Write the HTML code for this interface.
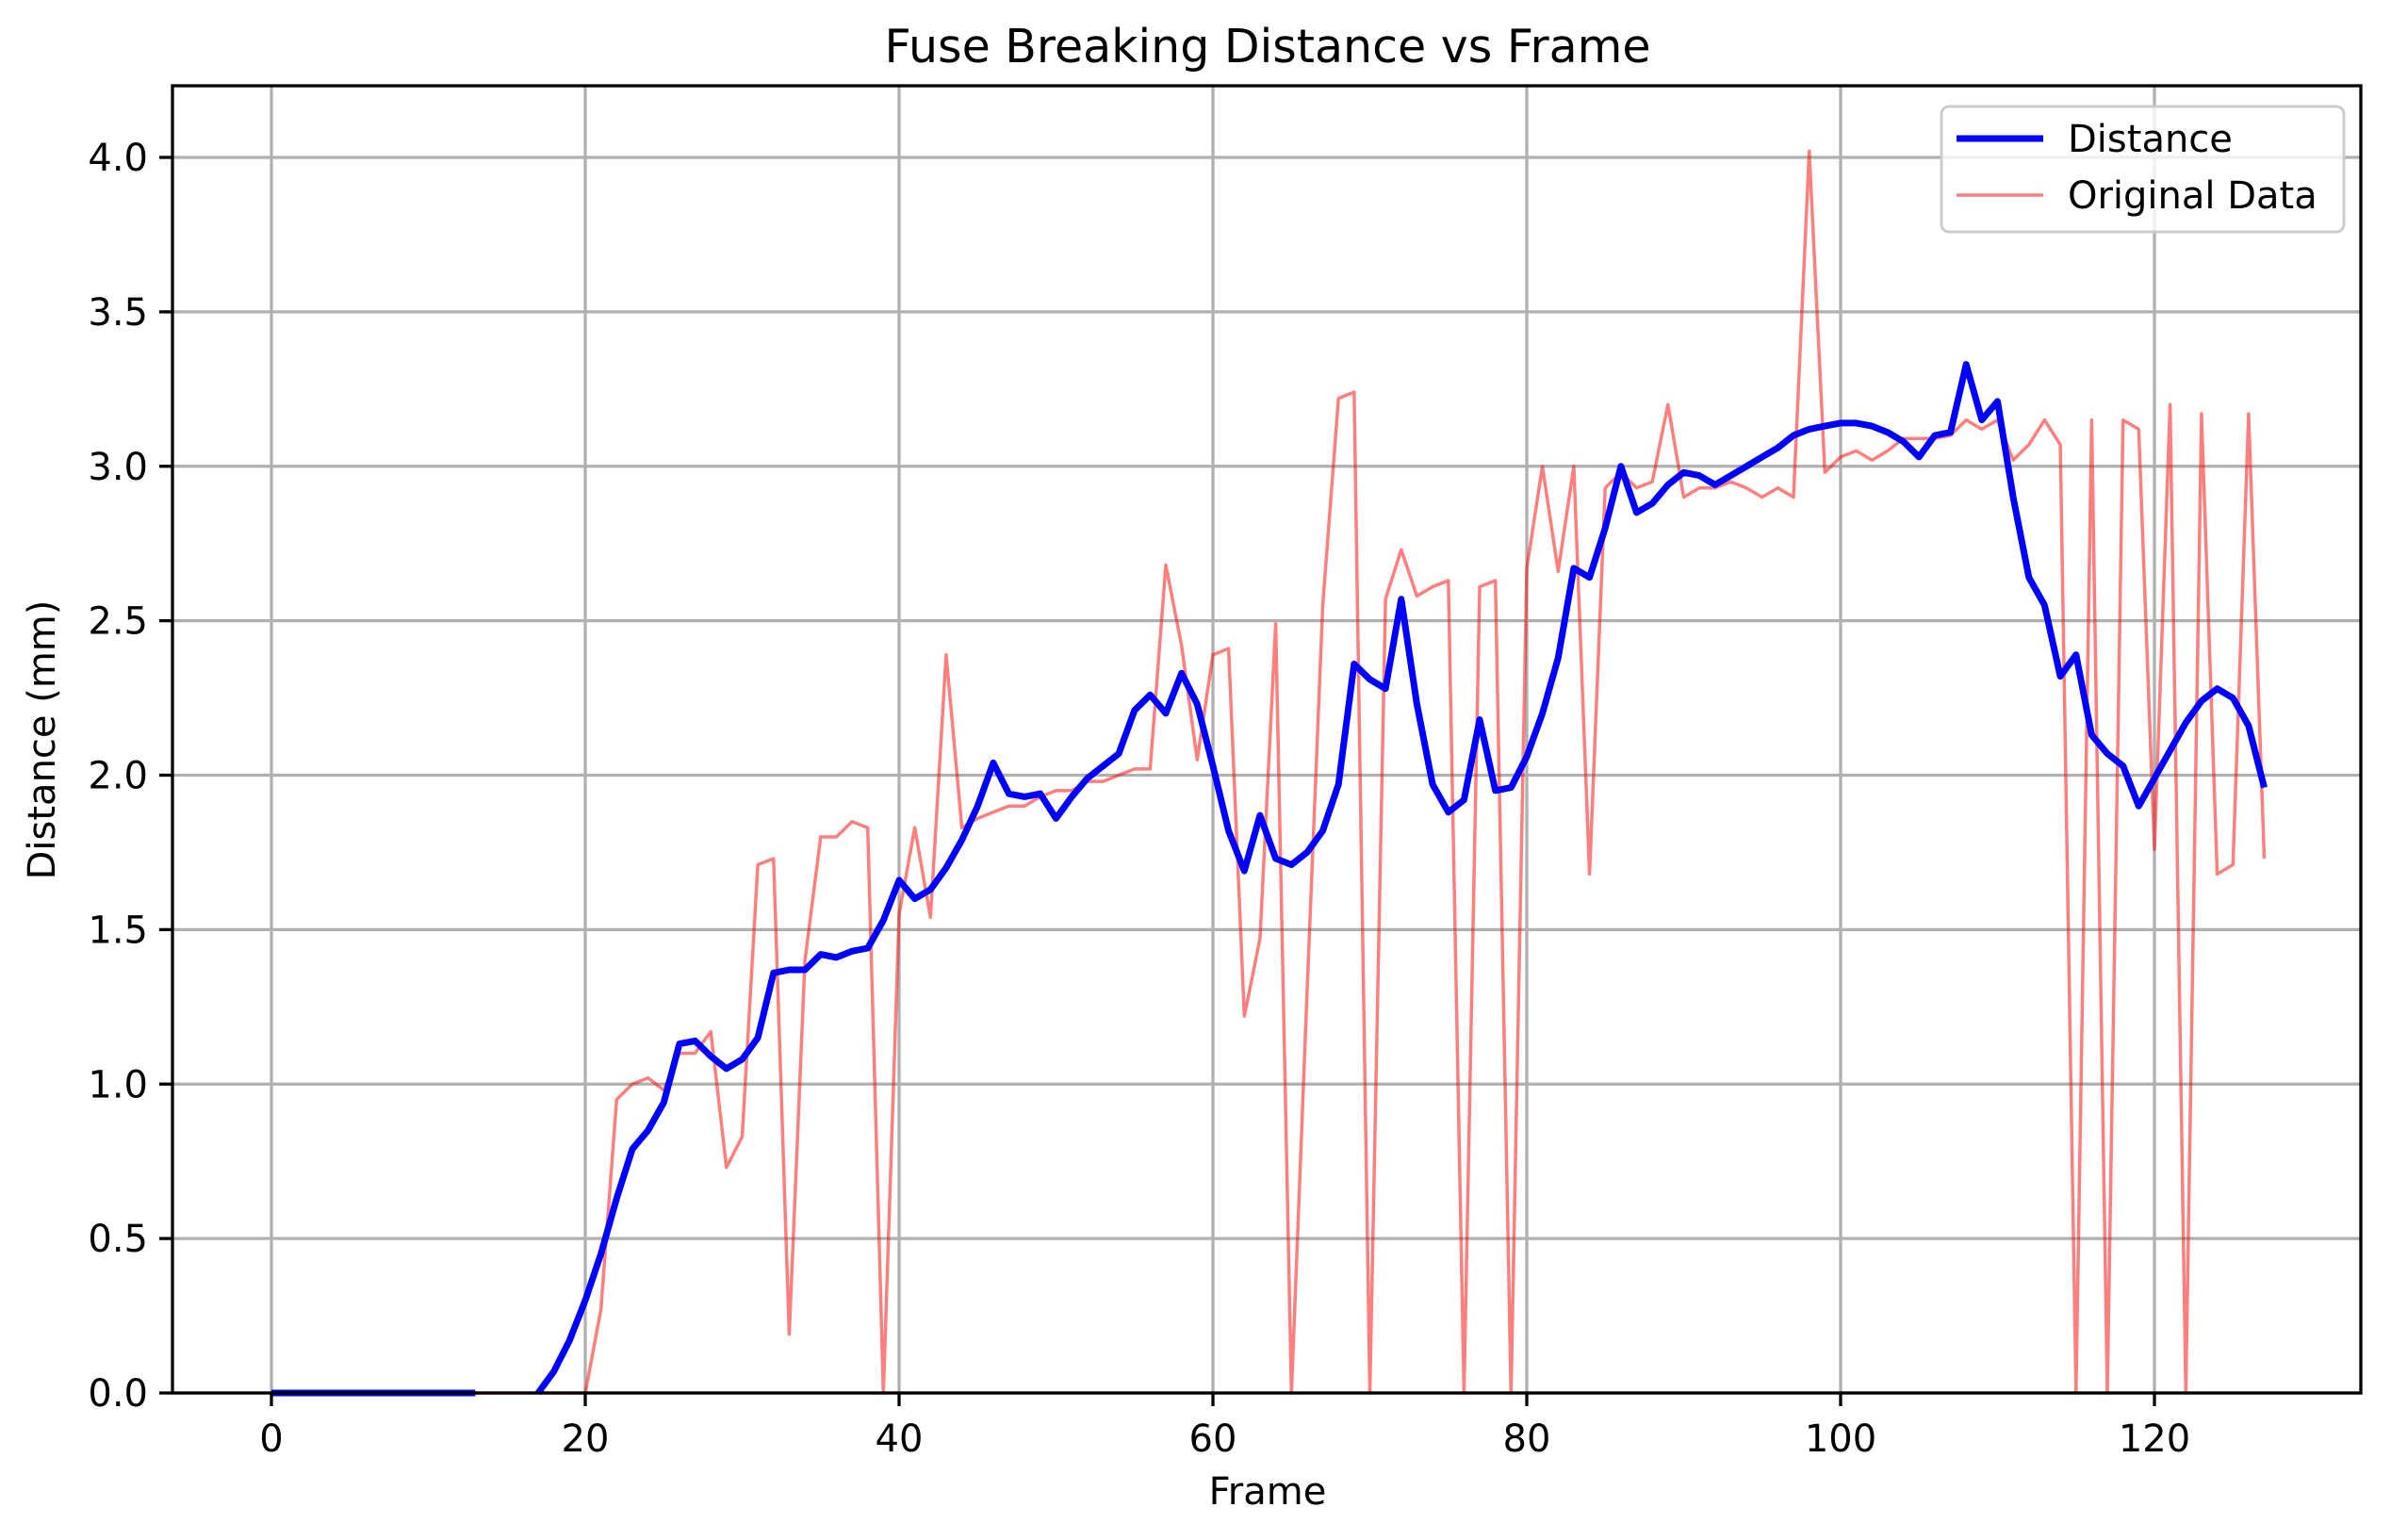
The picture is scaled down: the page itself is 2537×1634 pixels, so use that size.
<!DOCTYPE html>
<html><head><meta charset="utf-8"><style>
html,body{margin:0;padding:0;background:#fff}
svg{display:block;font-family:"DejaVu Sans","Liberation Sans",sans-serif}
</style></head><body>
<svg id="chart" width="2537" height="1634" viewBox="0 0 2537 1634" xmlns="http://www.w3.org/2000/svg">
<rect width="2537" height="1634" fill="#fff"/>
<g id="grid"></g>
<g id="series"></g>
<g id="axes"></g>
<text x="1345" y="66" font-size="49" text-anchor="middle">Fuse Breaking Distance vs Frame</text>
<text x="1345" y="1596" font-size="40" text-anchor="middle">Frame</text>
<text transform="translate(58,785) rotate(-90)" font-size="40" text-anchor="middle">Distance (mm)</text>
<g>
<rect x="2060" y="113" width="427" height="133" rx="8" fill="#fff" fill-opacity="0.8" stroke="#ccc" stroke-width="3"/>
<g>
<line x1="2076" y1="147" x2="2168" y2="147" stroke="#0000ff" stroke-width="7"/>
<text x="2194" y="161" font-size="40">Distance</text></g>
<g>
<line x1="2076" y1="207" x2="2168" y2="207" stroke="#ff0000" stroke-opacity="0.5" stroke-width="3.5"/>
<text x="2194" y="221" font-size="40">Original Data</text></g>
</g>
</svg>
<script>
const xTicks = [0,20,40,60,80,100,120];
const yTicks = [0,0.5,1.0,1.5,2.0,2.5,3.0,3.5,4.0];
const yTickLabels = ["0.0","0.5","1.0","1.5","2.0","2.5","3.0","3.5","4.0"];
const distance = [0,0,0,0,0,0,0,0,0,0,0,0,0,0,null,null,null,0,0.07,0.17,0.3,0.45,0.63,0.79,0.85,0.94,1.13,1.14,1.09,1.05,1.08,1.15,1.36,1.37,1.37,1.42,1.41,1.43,1.44,1.53,1.66,1.60,1.63,1.70,1.79,1.90,2.04,1.94,1.93,1.94,1.86,1.93,1.99,2.03,2.07,2.21,2.26,2.20,2.33,2.23,2.03,1.82,1.69,1.87,1.73,1.71,1.75,1.82,1.97,2.36,2.31,2.28,2.57,2.23,1.97,1.88,1.92,2.18,1.95,1.96,2.06,2.20,2.38,2.67,2.64,2.80,3.00,2.85,2.88,2.94,2.98,2.97,2.94,2.97,3.00,3.03,3.06,3.10,3.12,3.13,3.14,3.14,3.13,3.11,3.08,3.03,3.10,3.11,3.33,3.15,3.21,2.90,2.64,2.55,2.32,2.39,2.13,2.07,2.03,1.90,1.99,2.08,2.17,2.24,2.28,2.25,2.16,1.96];
const original = [0,0,0,0,0,0,0,0,0,0,0,0,0,0,0,0,0,0,0,0,0,0.27,0.95,1.00,1.02,0.98,1.10,1.10,1.17,0.73,0.83,1.71,1.73,0.19,1.40,1.80,1.80,1.85,1.83,0,1.55,1.83,1.54,2.39,1.83,1.86,1.88,1.90,1.90,1.93,1.95,1.95,1.98,1.98,2.00,2.02,2.02,2.68,2.42,2.05,2.39,2.41,1.22,1.47,2.49,0,1.30,2.55,3.22,3.24,0,2.57,2.73,2.58,2.61,2.63,0,2.61,2.63,0,2.67,3.00,2.66,3.00,1.68,2.93,2.98,2.93,2.95,3.20,2.90,2.93,2.93,2.95,2.93,2.90,2.93,2.90,4.02,2.98,3.03,3.05,3.02,3.05,3.09,3.09,3.09,3.10,3.15,3.12,3.15,3.02,3.07,3.15,3.07,0,3.15,0,3.15,3.12,1.76,3.20,0,3.17,1.68,1.71,3.17,1.73];

const L=183,R=2505,T=91,B=1478;
const X0=288, XS=16.65;
const Y0=1478, YS=327.75;
function xs(v){return X0+v*XS;}
function ys(v){return Y0-v*YS;}
const NS="http://www.w3.org/2000/svg";
function mk(tag,attrs,parent){const e=document.createElementNS(NS,tag);for(const k in attrs)e.setAttribute(k,attrs[k]);parent.appendChild(e);return e;}
const grid=document.getElementById('grid'),axes=document.getElementById('axes'),series=document.getElementById('series');
xTicks.forEach(t=>{
  const g=mk('line',{x1:xs(t),x2:xs(t),y1:T,y2:B,stroke:'#b0b0b0','stroke-width':3.3},grid);
  
  
  const tk=mk('line',{x1:xs(t),x2:xs(t),y1:B,y2:B+14,stroke:'#000','stroke-width':3.3},axes);
  
  
  const tx=mk('text',{x:xs(t),y:B+62,'font-size':40,'text-anchor':'middle'},axes);
  tx.textContent=t;
  
  
});
yTicks.forEach((t,i)=>{
  const g=mk('line',{x1:L,x2:R,y1:ys(t),y2:ys(t),stroke:'#b0b0b0','stroke-width':3.3},grid);
  
  
  const tk=mk('line',{x1:L-14,x2:L,y1:ys(t),y2:ys(t),stroke:'#000','stroke-width':3.3},axes);
  
  
  const tx=mk('text',{x:L-26,y:ys(t)+14,'font-size':40,'text-anchor':'end'},axes);
  tx.textContent=yTickLabels[i];
  
  
});
const frame=mk('rect',{x:L,y:T,width:R-L,height:B-T,fill:'none',stroke:'#000','stroke-width':3.3},axes);


function pathFrom(arr){let d='',pen=false;arr.forEach((v,i)=>{if(v===null){pen=false;return;}d+=(pen?'L':'M')+xs(i).toFixed(1)+' '+ys(v).toFixed(1)+' ';pen=true;});return d;}
const red=mk('path',{d:pathFrom(original),fill:'none',stroke:'#ff0000','stroke-opacity':0.5,'stroke-width':3.5,'stroke-linejoin':'round'},series);


const blue=mk('path',{d:pathFrom(distance),fill:'none',stroke:'#0000ff','stroke-width':7,'stroke-linejoin':'round'},series);


</script>
</body></html>
